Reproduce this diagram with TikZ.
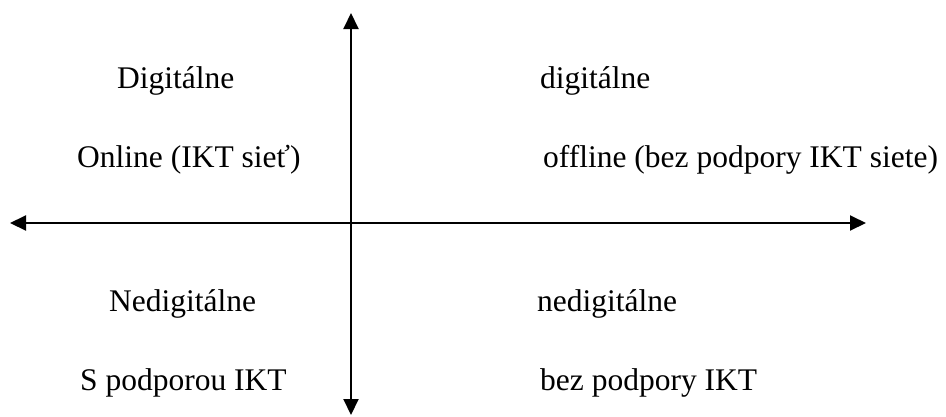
\documentclass[tikz,border=0pt]{standalone}
\usepackage{fontspec}
\setmainfont{Liberation Serif}
\usetikzlibrary{arrows.meta}
\begin{document}
\begin{tikzpicture}[x=1pt,y=-1pt,
  lbl/.style={anchor=base west, inner sep=0pt, font=\fontsize{31.5}{38}\selectfont},
  axis/.style={line width=2pt, {Triangle[length=16pt,width=15pt]}-{Triangle[length=16pt,width=15pt]}}]
\useasboundingbox (0,0) rectangle (946,416);
\coordinate (top) at (351,13);
\coordinate (bot) at (351,415);
\coordinate (lft) at (10,223);
\coordinate (rgt) at (866,223);
\draw[axis] (bot) -- (top);
\draw[axis] (lft) -- (rgt);
\node[lbl] (d1) at (117,88) {Digitálne};
\node[lbl] (d2) at (77,167) {Online (IKT sieť)};
\node[lbl] (d3) at (540,88) {digitálne};
\node[lbl] (d4) at (543,167) {offline (bez podpory IKT siete)};
\node[lbl] (n1) at (109,311) {Nedigitálne};
\node[lbl] (n2) at (80,390) {S podporou IKT};
\node[lbl] (n3) at (537,311) {nedigitálne};
\node[lbl] (n4) at (540,390) {bez podpory IKT};
\end{tikzpicture}
\end{document}
